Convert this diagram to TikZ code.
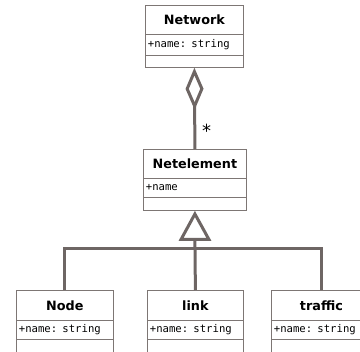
\documentclass[tikz,border=0pt]{standalone}
\usepackage{fontspec}
\setmainfont{DejaVu Sans}
\newfontfamily\monof{DejaVu Sans Mono}
\usetikzlibrary{arrows.meta}
\definecolor{conncol}{RGB}{110,102,100}
\definecolor{boxcol}{RGB}{125,118,116}
\tikzset{
  titlebox/.style={draw=boxcol, fill=white, line width=0.8pt, inner sep=0pt, anchor=north west,
    font=\bfseries\fontsize{12.8}{15}\selectfont},
  attrbox/.style={draw=boxcol, fill=white, line width=0.8pt, inner xsep=2.5pt, inner ysep=0pt, anchor=north west,
    align=left, font=\monof\fontsize{10.6}{12}\selectfont},
  opbox/.style={draw=boxcol, fill=white, line width=0.8pt, inner sep=0pt, anchor=north west},
  conn/.style={draw=conncol, line width=3pt},
}
\begin{document}
\begin{tikzpicture}[x=1pt,y=-1pt]
\useasboundingbox (0,0) rectangle (360,352);
% Network
\node[titlebox, minimum width=98pt, minimum height=29pt] (net) at (145,5) {Network};
\node[attrbox, text width=93pt, minimum height=21pt] (net-a) at (145,34) {+name: string};
\node[opbox, minimum width=98pt, minimum height=12pt] (net-o) at (145,55) {};
% Netelement
\node[titlebox, minimum width=103pt, minimum height=29pt] (ne) at (143,149) {Netelement};
\node[attrbox, text width=98pt, minimum height=19pt] (ne-a) at (143,178) {+name};
\node[opbox, minimum width=103pt, minimum height=13pt] (ne-o) at (143,197) {};
% Node
\node[titlebox, minimum width=97pt, minimum height=30pt] (nd) at (16,290) {Node};
\node[attrbox, text width=92pt, minimum height=19pt] (nd-a) at (16,320) {+name: string};
\node[opbox, minimum width=97pt, minimum height=20pt] (nd-o) at (16,339) {};
% link
\node[titlebox, minimum width=96pt, minimum height=30pt] (lk) at (147,290) {link};
\node[attrbox, text width=91pt, minimum height=19pt] (lk-a) at (147,320) {+name: string};
\node[opbox, minimum width=96pt, minimum height=20pt] (lk-o) at (147,339) {};
% traffic
\node[titlebox, minimum width=100pt, minimum height=30pt] (tr) at (271,290) {traffic};
\node[attrbox, text width=95pt, minimum height=19pt] (tr-a) at (271,320) {+name: string};
\node[opbox, minimum width=100pt, minimum height=20pt] (tr-o) at (271,339) {};
% aggregation
\draw[conn, {Diamond[open, length=42pt, width=18pt, line width=3pt]}-] (net-o.south) -- (ne.north);
\node[font=\fontsize{18}{20}\selectfont, inner sep=0pt, anchor=north west] (mult) at (202,124) {*};
% generalization
\coordinate (hub) at (195,249);
\draw[conn] (nd.north) |- (hub) -| (tr.north);
\draw[conn] (lk.north) -- (hub);
\draw[conn, -{Triangle[open, length=30pt, width=32pt, line width=3pt]}] (hub) -- (ne-o.south);
\end{tikzpicture}
\end{document}
